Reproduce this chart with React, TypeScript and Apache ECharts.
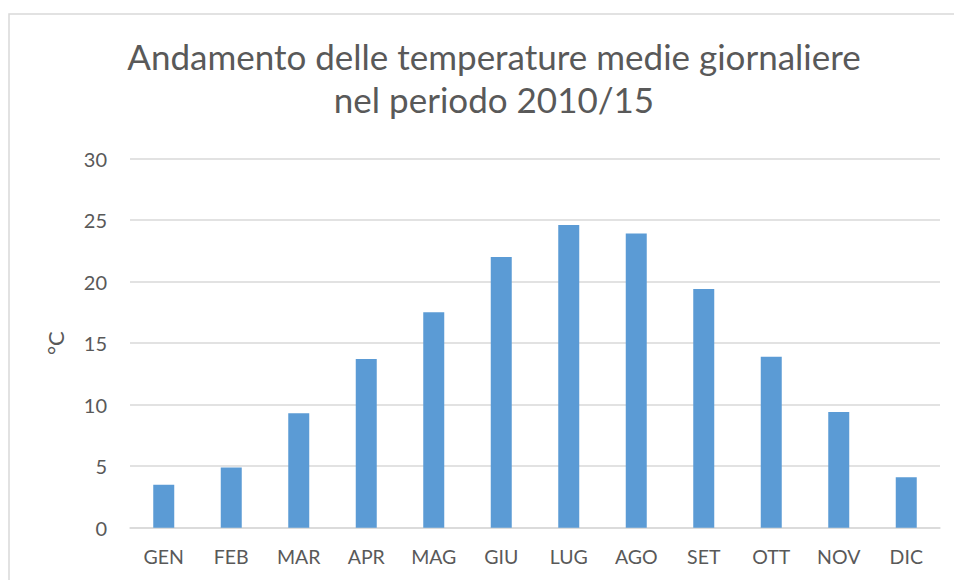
import React, { useEffect, useRef } from "react";
import * as echarts from "echarts";

const months = ["GEN", "FEB", "MAR", "APR", "MAG", "GIU", "LUG", "AGO", "SET", "OTT", "NOV", "DIC"];
const temperatures = [3.5, 4.9, 9.3, 13.7, 17.5, 22.0, 24.6, 23.9, 19.4, 13.9, 9.4, 4.1];
const titleText = "Andamento delle temperature medie giornaliere\nnel periodo 2010/15";
const yAxisName = "°C";

const FONT = "Lato, 'Open Sans', sans-serif";
const TEXT_COLOR = "#595959";

export default function App() {
  const ref = useRef<HTMLDivElement>(null);
  useEffect(() => {
    if (!ref.current) return;
    const chart = echarts.init(ref.current, undefined, { renderer: "svg" });
    chart.setOption({
      animation: false,
      backgroundColor: "#ffffff",
      graphic: [
        {
          type: "rect",
          shape: { x: 9, y: 14, width: 1000, height: 700 },
          style: { fill: "none", stroke: "#d9d9d9", lineWidth: 1.5 },
          silent: true,
        },
      ],
      title: {
        text: titleText,
        left: 489,
        textAlign: "center",
        top: 29,
        textStyle: {
          fontFamily: FONT,
          fontSize: 35,
          fontWeight: "normal",
          color: TEXT_COLOR,
          lineHeight: 43,
        },
      },
      grid: { left: 130, right: 14, top: 158.5, bottom: 52.3 },
      xAxis: {
        type: "category",
        data: months,
        axisLine: { lineStyle: { color: "#d9d9d9", width: 1.5 } },
        axisTick: { show: false },
        axisLabel: { color: TEXT_COLOR, fontFamily: FONT, fontSize: 19.5, margin: 19 },
      },
      yAxis: {
        type: "value",
        min: 0,
        max: 30,
        interval: 5,
        name: yAxisName,
        nameLocation: "middle",
        nameGap: 64,
        nameRotate: 90,
        nameTextStyle: { color: TEXT_COLOR, fontFamily: FONT, fontSize: 22 },
        axisLine: { show: false },
        axisTick: { show: false },
        axisLabel: { color: TEXT_COLOR, fontFamily: FONT, fontSize: 20, margin: 23 },
        splitLine: { lineStyle: { color: "#d9d9d9", width: 1.5 } },
      },
      series: [
        {
          type: "bar",
          data: temperatures,
          barWidth: 21,
          itemStyle: { color: "#5b9bd5" },
        },
      ],
    });
    return () => chart.dispose();
  }, []);
  return <div ref={ref} style={{ width: 954, height: 580, position: "absolute", left: 0, top: 0 }} />;
}
